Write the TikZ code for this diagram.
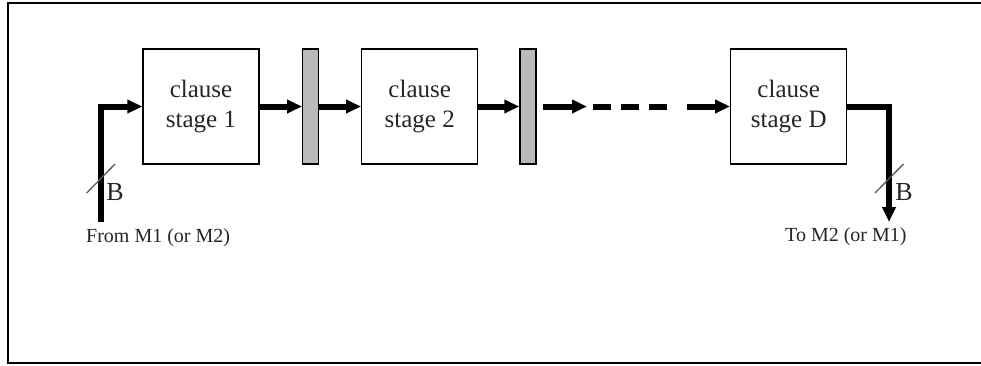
\documentclass[tikz,border=0pt]{standalone}
\usepackage{fontspec}
\setmainfont{Liberation Serif}
\usetikzlibrary{arrows.meta,calc}
\begin{document}
\begin{tikzpicture}[x=1pt,y=-1pt,
  stagebox/.style={draw,line width=1.3pt,minimum width=116pt,minimum height=115pt,
    inner sep=0pt,align=center,font=\fontsize{25}{30}\selectfont,text=black!85},
  latch/.style={draw,line width=1.3pt,fill=black!27,minimum width=16pt,minimum height=115pt,inner sep=0pt},
  flow/.style={line width=6pt,line join=miter,-{Triangle[length=15pt,width=13pt]}},
  bus/.style={line width=6pt,line join=miter},
  busdash/.style={line width=6pt,dash pattern=on 18pt off 10pt},
  slash/.style={line width=1.3pt,draw=black!65},
  buslabel/.style={font=\fontsize{26}{30}\selectfont,inner sep=0pt,text=black!85},
  portlabel/.style={font=\fontsize{20}{24}\selectfont,inner sep=0pt,text=black!85}]
\useasboundingbox (0,0) rectangle (981,365);
% frame
\draw[line width=2pt] (981,3) -- (7.5,3) -- (7.5,362.5) -- (981,362.5);

% pipeline stages and latches
\node[stagebox] (b1) at (201,106.5) {clause\\stage 1};
\node[latch] (r1) at (310.7,106.5) {};
\node[stagebox] (b2) at (419.7,106.5) {clause\\stage 2};
\node[latch] (r2) at (527.9,106.5) {};
\node[stagebox] (bD) at (788.7,106.5) {clause\\stage D};

% input and output ends of the bus
\coordinate (in) at (100.5,222);
\coordinate (out) at (889,222);
\coordinate (d1s) at ($(r2.east)+(6,0)$);
\coordinate (d1e) at (587,106.5);
\coordinate (d2s) at (593,106.5);
\coordinate (d2e) at (667,106.5);
\coordinate (d3s) at (687,106.5);

% data flow
\draw[flow] (in) |- (b1.west);
\draw[flow] (b1.east) -- (r1.west);
\draw[flow] (r1.east) -- (b2.west);
\draw[flow] (b2.east) -- (r2.west);
\draw[flow] (d1s) -- (d1e);
\draw[busdash] (d2s) -- (d2e);
\draw[flow] (d3s) -- (bD.west);
\draw[flow] (bD.east) -| (out);

% bus width marks
\coordinate (s1a) at (86.7,193);
\coordinate (s1b) at (115,164);
\coordinate (s2a) at (875,193);
\coordinate (s2b) at (903.5,164);
\draw[slash] (s1a) -- (s1b);
\draw[slash] (s2a) -- (s2b);
\node[buslabel] (B1) at (115,192) {B};
\node[buslabel] (B2) at (904,192) {B};

% port labels
\node[portlabel,anchor=west] (src) at (86,238) {From M1 (or M2)};
\node[portlabel,anchor=west] (dst) at (785,237) {To M2 (or M1)};
\end{tikzpicture}
\end{document}
